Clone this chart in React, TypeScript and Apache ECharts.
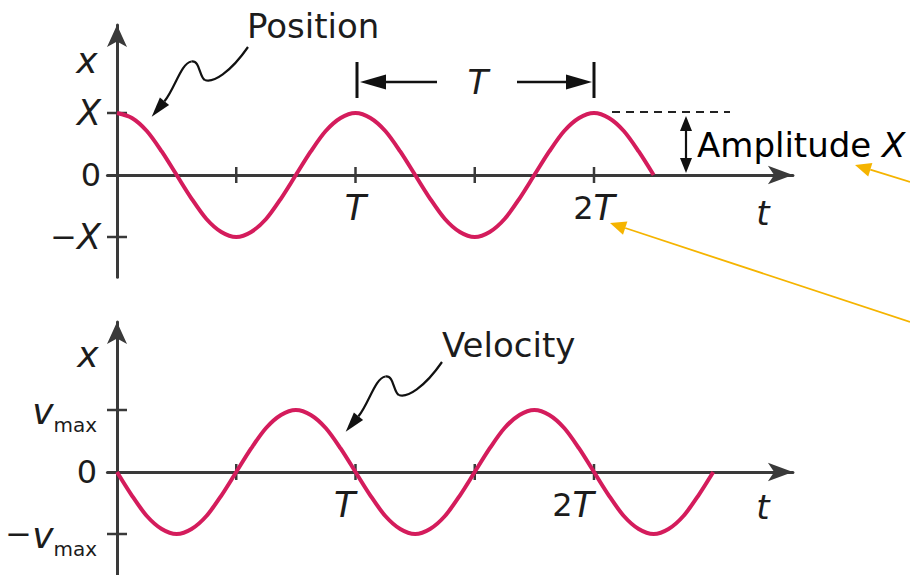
import React, { useEffect, useRef } from "react";
import * as echarts from "echarts";

// ---- data (time in units of the period T) ----
const posTimes = [
  0, 0.0625, 0.125, 0.1875, 0.25, 0.3125, 0.375, 0.4375, 0.5, 0.5625, 0.625, 0.6875, 0.75, 0.8125, 0.875, 0.9375,
  1, 1.0625, 1.125, 1.1875, 1.25, 1.3125, 1.375, 1.4375, 1.5, 1.5625, 1.625, 1.6875, 1.75, 1.8125, 1.875, 1.9375,
  2, 2.0625, 2.125, 2.1875, 2.25,
];
const posValues = [
  1, 0.92, 0.71, 0.38, 0, -0.38, -0.71, -0.92, -1, -0.92, -0.71, -0.38, 0, 0.38, 0.71, 0.92,
  1, 0.92, 0.71, 0.38, 0, -0.38, -0.71, -0.92, -1, -0.92, -0.71, -0.38, 0, 0.38, 0.71, 0.92,
  1, 0.92, 0.71, 0.38, 0,
];

const velTimes = [
  0, 0.0625, 0.125, 0.1875, 0.25, 0.3125, 0.375, 0.4375, 0.5, 0.5625, 0.625, 0.6875, 0.75, 0.8125, 0.875, 0.9375,
  1, 1.0625, 1.125, 1.1875, 1.25, 1.3125, 1.375, 1.4375, 1.5, 1.5625, 1.625, 1.6875, 1.75, 1.8125, 1.875, 1.9375,
  2, 2.0625, 2.125, 2.1875, 2.25, 2.3125, 2.375, 2.4375, 2.5,
];
const velValues = [
  0, -0.38, -0.71, -0.92, -1, -0.92, -0.71, -0.38, 0, 0.38, 0.71, 0.92, 1, 0.92, 0.71, 0.38,
  0, -0.38, -0.71, -0.92, -1, -0.92, -0.71, -0.38, 0, 0.38, 0.71, 0.92, 1, 0.92, 0.71, 0.38,
  0, -0.38, -0.71, -0.92, -1, -0.92, -0.71, -0.38, 0,
];

const timeTickMarks = [0.5, 1, 1.5, 2];
const timeLabelValues = [1, 2];
const timeLabels = ["{i|T}", "{n|2}{i|T}"];

const posYValues = [-1, 0, 1];
const posYLabels = ["{n|\u2212}{i|X}", "{n|0}", "{i|X}"];
const velYValues = [-1, 0, 1];
const velYLabels = ["{n|\u2212}{v|v}{s|max}", "{n|0}", "{v|v}{s|max}"];
const yTickMarks = [-1, 1];

// ---- styling ----
const FONT = "DejaVu Sans";
const INK = "#1c1c1c";
const AXIS = "#3a3a3a";
const CURVE = "#d41c5c";
const ORANGE = "#f5b400";

const X0 = 117; // pixel of t = 0
const PPT = 238.5; // pixels per period
const PPU = 62; // pixels per amplitude unit
const XMIN = -0.04;
const XMAX = 2.834;
const YMAX = 2.42;
const YMIN_TOP = -1.65;
const YMIN_BOT = -1.66;
const ZERO_TOP = 175;
const ZERO_BOT = 472;

const rich = {
  i: { fontFamily: FONT, fontStyle: "italic", fontSize: 35, color: INK },
  n: { fontFamily: FONT, fontSize: 32, color: INK },
  v: { fontFamily: FONT, fontStyle: "italic", fontSize: 36, color: INK, verticalAlign: "bottom", padding: [8, 0, 6, 0] },
  s: { fontFamily: FONT, fontSize: 20, color: INK, verticalAlign: "bottom" },
};

function tickSeries(gridIdx: number) {
  const data: number[][] = [];
  timeTickMarks.forEach((t) => data.push([t, 0, 0]));
  yTickMarks.forEach((y) => data.push([0, y, 1]));
  return {
    type: "custom",
    xAxisIndex: gridIdx,
    yAxisIndex: gridIdx,
    clip: false,
    z: 2,
    data,
    renderItem: (_p: any, api: any) => {
      const pt = api.coord([api.value(0), api.value(1)]);
      const o = api.value(2);
      const shape =
        o === 0
          ? { x1: pt[0], y1: pt[1] - 8, x2: pt[0], y2: pt[1] + 8 }
          : { x1: pt[0] - 10, y1: pt[1], x2: pt[0] + 10, y2: pt[1] };
      return { type: "line", shape, style: { stroke: AXIS, lineWidth: 2.5 } };
    },
  };
}

function xAxis(gridIdx: number, alignRight: boolean, offset: number) {
  return {
    type: "value",
    gridIndex: gridIdx,
    position: "bottom",
    offset,
    min: XMIN,
    max: XMAX,
    axisLine: {
      show: true,
      onZero: false,
      symbol: ["none", "arrow"],
      symbolSize: [14, 25],
      lineStyle: { color: AXIS, width: 3 },
    },
    axisTick: { show: false },
    splitLine: { show: false },
    axisLabel: {
      customValues: timeLabelValues,
      margin: 15,
      align: alignRight ? "right" : "center",
      formatter: (v: number) => {
        const k = timeLabelValues.indexOf(v);
        return k >= 0 ? timeLabels[k] : "";
      },
      rich,
    },
  };
}

function yAxis(gridIdx: number, min: number, values: number[], labels: string[], margin: number, offset: number) {
  return {
    type: "value",
    gridIndex: gridIdx,
    position: "left",
    offset,
    min,
    max: YMAX,
    axisLine: {
      show: true,
      onZero: false,
      symbol: ["none", "arrow"],
      symbolSize: [15, 22],
      lineStyle: { color: AXIS, width: 3 },
    },
    axisTick: { show: false },
    splitLine: { show: false },
    axisLabel: {
      customValues: values,
      margin,
      formatter: (v: number) => {
        const k = values.indexOf(v);
        return k >= 0 ? labels[k] : "";
      },
      rich,
    },
  };
}

function squiggle(dx: number, dy: number) {
  const ls = { stroke: "#111", lineWidth: 2.2, fill: "none" };
  return {
    type: "group",
    x: dx,
    y: dy,
    z: 20,
    children: [
      { type: "bezierCurve", shape: { x1: 248, y1: 47, cpx1: 230, cpy1: 73, cpx2: 213, cpy2: 83, x2: 205, y2: 80 }, style: ls },
      { type: "bezierCurve", shape: { x1: 205, y1: 80, cpx1: 199.5, cpy1: 78, cpx2: 200, cpy2: 60, x2: 191.5, y2: 61.5 }, style: ls },
      { type: "bezierCurve", shape: { x1: 191.5, y1: 61.5, cpx1: 181, cpy1: 63, cpx2: 175, cpy2: 88.5, x2: 164.5, y2: 101.3 }, style: ls },
      { type: "polygon", shape: { points: [[151.7, 116.7], [169.1, 105.1], [159.9, 97.5]] }, style: { fill: "#111" } },
    ],
  };
}

function buildOption() {
  const gridLeft = X0 + XMIN * PPT;
  const gridWidth = (XMAX - XMIN) * PPT;
  const topTop = ZERO_TOP - YMAX * PPU;
  const topH = (YMAX - YMIN_TOP) * PPU;
  const botTop = ZERO_BOT - YMAX * PPU;
  const botH = (YMAX - YMIN_BOT) * PPU;
  const yOff = -(X0 - gridLeft);
  const textBase = { fontFamily: FONT, fill: INK };
  const blk = { stroke: "#111", lineWidth: 2.5 };
  return {
    animation: false,
    backgroundColor: "#ffffff",
    grid: [
      { left: gridLeft, width: gridWidth, top: topTop, height: topH, outerBoundsMode: "none", containLabel: false },
      { left: gridLeft, width: gridWidth, top: botTop, height: botH, outerBoundsMode: "none", containLabel: false },
    ],
    xAxis: [
      xAxis(0, false, -(topTop + topH - ZERO_TOP)),
      xAxis(1, true, -(botTop + botH - ZERO_BOT)),
    ],
    yAxis: [
      yAxis(0, YMIN_TOP, posYValues, posYLabels, 16, yOff),
      yAxis(1, YMIN_BOT, velYValues, velYLabels, 20, yOff),
    ],
    series: [
      {
        type: "line",
        name: "Position",
        xAxisIndex: 0,
        yAxisIndex: 0,
        data: posTimes.map((t, k) => [t, posValues[k]]),
        smooth: 0.3,
        showSymbol: false,
        z: 5,
        lineStyle: { color: CURVE, width: 4 },
      },
      {
        type: "line",
        name: "Velocity",
        xAxisIndex: 1,
        yAxisIndex: 1,
        data: velTimes.map((t, k) => [t, velValues[k]]),
        smooth: 0.3,
        showSymbol: false,
        z: 5,
        lineStyle: { color: CURVE, width: 4 },
      },
      tickSeries(0),
      tickSeries(1),
    ],
    graphic: [
      // axis names
      { type: "text", x: 87, y: 60, style: { ...textBase, text: "x", fontSize: 36, fontStyle: "italic", align: "center", verticalAlign: "middle" } },
      { type: "text", x: 763, y: 213, style: { ...textBase, text: "t", fontSize: 34, fontStyle: "italic", align: "center", verticalAlign: "middle" } },
      { type: "text", x: 88, y: 354, style: { ...textBase, text: "x", fontSize: 36, fontStyle: "italic", align: "center", verticalAlign: "middle" } },
      { type: "text", x: 763, y: 507, style: { ...textBase, text: "t", fontSize: 34, fontStyle: "italic", align: "center", verticalAlign: "middle" } },
      // annotations
      { type: "text", x: 247, y: 26, style: { ...textBase, text: "Position", fontSize: 34, verticalAlign: "middle" } },
      { type: "text", x: 442, y: 345, style: { ...textBase, text: "Velocity", fontSize: 34, verticalAlign: "middle" } },
      squiggle(0, 0),
      squiggle(194, 315),
      // period bracket
      { type: "line", shape: { x1: 357, y1: 62, x2: 357, y2: 98 }, style: { ...blk, lineWidth: 3 } },
      { type: "line", shape: { x1: 594, y1: 62, x2: 594, y2: 98 }, style: { ...blk, lineWidth: 3 } },
      { type: "line", shape: { x1: 437, y1: 82, x2: 382, y2: 82 }, style: blk },
      { type: "polygon", shape: { points: [[360, 82], [386, 74.5], [386, 89.5]] }, style: { fill: "#111" } },
      { type: "line", shape: { x1: 517, y1: 82, x2: 572, y2: 82 }, style: blk },
      { type: "polygon", shape: { points: [[592, 82], [566, 74.5], [566, 89.5]] }, style: { fill: "#111" } },
      { type: "text", x: 478, y: 82, style: { ...textBase, text: "T", fontSize: 34, fontStyle: "italic", align: "center", verticalAlign: "middle" } },
      // amplitude
      { type: "line", shape: { x1: 612, y1: 112, x2: 730, y2: 112 }, style: { stroke: "#222", lineWidth: 2, lineDash: [8, 6] } },
      { type: "line", shape: { x1: 686, y1: 126, x2: 686, y2: 162 }, style: { stroke: "#111", lineWidth: 2.2 } },
      { type: "polygon", shape: { points: [[686, 116], [680, 131], [692, 131]] }, style: { fill: "#111" } },
      { type: "polygon", shape: { points: [[686, 173], [680, 158], [692, 158]] }, style: { fill: "#111" } },
      {
        type: "text",
        x: 697,
        y: 145,
        style: {
          text: "{a|Amplitude\u00a0}{i|X}",
          verticalAlign: "middle",
          rich: {
            a: { fontFamily: FONT, fontSize: 34, color: INK },
            i: { fontFamily: FONT, fontSize: 34, fontStyle: "italic", color: INK },
          },
        },
      },
      // orange pointers
      { type: "line", shape: { x1: 910, y1: 182, x2: 870.3, y2: 169.7 }, style: { stroke: ORANGE, lineWidth: 1.8 } },
      { type: "polygon", shape: { points: [[855, 165], [872.4, 163.0], [868.2, 176.4]] }, style: { fill: ORANGE } },
      { type: "line", shape: { x1: 910, y1: 322, x2: 625.2, y2: 228.0 }, style: { stroke: ORANGE, lineWidth: 1.8 } },
      { type: "polygon", shape: { points: [[610, 223], [627.4, 221.4], [623.0, 234.7]] }, style: { fill: ORANGE } },
    ],
  };
}

export default function App() {
  const ref = useRef<HTMLDivElement>(null);
  useEffect(() => {
    if (!ref.current) return;
    const chart = echarts.init(ref.current, null, { renderer: "svg" });
    chart.setOption(buildOption() as any);
    return () => chart.dispose();
  }, []);
  return (
    <div
      ref={ref}
      style={{ position: "fixed", left: 0, top: 0, width: 910, height: 575, background: "#fff" }}
    />
  );
}
